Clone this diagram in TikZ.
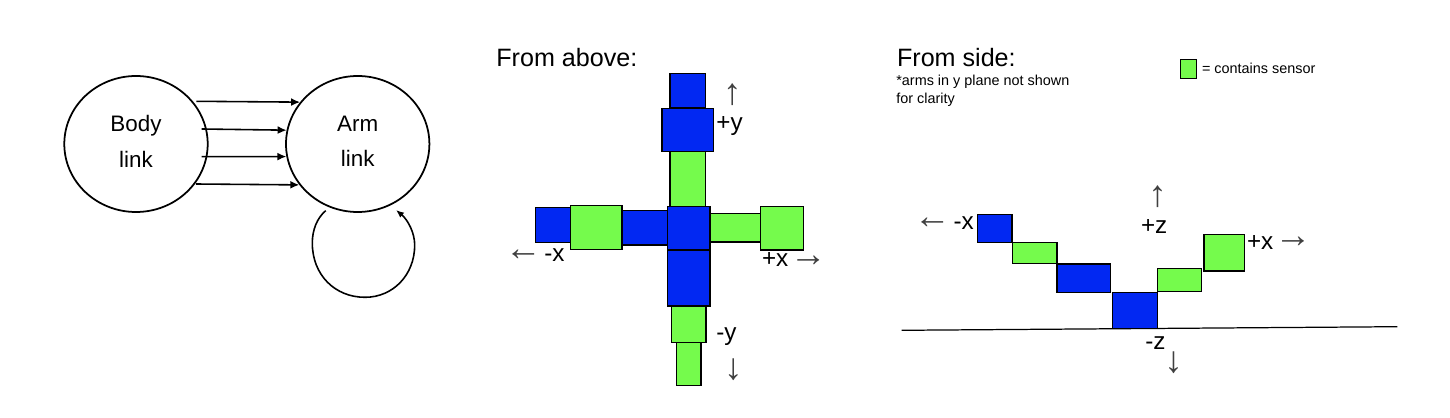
\documentclass[tikz,border=0pt]{standalone}
\usepackage{fontspec}
\setmainfont{Liberation Sans}
\usetikzlibrary{arrows.meta,shapes.geometric}
\definecolor{armblue}{HTML}{0228F2}
\definecolor{armgreen}{HTML}{75FB4C}

\begin{document}
\begin{tikzpicture}[
  x=0.02cm,y=-0.02cm,
  link/.style={
    ellipse,
    draw=black,
    line width=1pt,
    inner sep=0pt,
    minimum width=143.4*0.02cm,
    minimum height=136*0.02cm,
    align=center,
    text depth=3.2pt,
    font=\fontsize{12.75}{20.2}\selectfont
  },
  part/.style={
    draw=black,
    line width=0.65pt,
    inner sep=0pt
  },
  bluepart/.style 2 args={
    part,
    fill=armblue,
    minimum width=#1*0.02cm,
    minimum height=#2*0.02cm
  },
  greenpart/.style 2 args={
    part,
    fill=armgreen,
    minimum width=#1*0.02cm,
    minimum height=#2*0.02cm
  },
  view title/.style={
    anchor=base west,
    inner sep=0pt,
    font=\fontsize{14.3}{17}\selectfont
  },
  axis label/.style={
    anchor=base west,
    inner sep=0pt,
    font=\fontsize{13.8}{16}\selectfont
  },
  axis arrow/.style={
    inner sep=0pt,
    text=black!75,
    font=\fontsize{21}{25}\selectfont
  },
  small note/.style={
    anchor=base west,
    inner sep=0pt,
    align=left,
    font=\fontsize{8.2}{9.9}\selectfont
  },
  flow/.style={-{Latex[length=1.8mm,width=1.6mm]},line width=0.9pt},
  loop flow/.style={-{Latex[length=1.6mm,width=1.3mm]},line width=0.9pt}
]
  \useasboundingbox (0,0) rectangle (1450,418);

  % links
  \node[link] (body) at (136,144) {Body\\link};
  \node[link] (arm) at (357.7,144) {Arm\\link};

  \coordinate (body-a) at (196.3,101.3);
  \coordinate (body-b) at (201.7,129);
  \coordinate (body-c) at (201.7,156.7);
  \coordinate (body-d) at (196,184);
  \coordinate (loop-start) at (325.7,210.7);
  \coordinate (loop-end) at (396,210);

  \draw[flow] (body-a)--(arm.144.6);
  \draw[flow] (body-b)--(arm.169);
  \draw[flow] (body-c)--(arm.190.7);
  \draw[flow] (body-d)--(arm.215.9);
  \draw[loop flow] (loop-start)
    .. controls (317,218) and (312.3,230) .. (312.3,243)
    .. controls (312.3,275) and (335,297.3) .. (365,297.3)
    .. controls (393,297.3) and (414.7,275) .. (414.7,245)
    .. controls (414.7,233) and (408,220) .. (loop-end);

  % from above
  \node[view title] (above-title) at (496,67) {From above:};
  \node[bluepart={35.3}{34.7}] (top-a) at (687.7,90.7) {};
  \node[bluepart={51.3}{43.4}] (top-b) at (687.7,130) {};
  \node[greenpart={35.3}{55}] (top-c) at (687.7,179.2) {};
  \node[bluepart={35}{34.6}] (left-a) at (553.2,225) {};
  \node[bluepart={46}{34.7}] (left-c) at (645,227.6) {};
  \node[greenpart={51.3}{43.6}] (left-b) at (596.3,227.5) {};
  \node[greenpart={50.7}{28.7}] (right-a) at (735.3,227.7) {};
  \node[greenpart={42.6}{43.3}] (right-b) at (782,228.3) {};
  \node[bluepart={42.3}{43.3}] (centre) at (688.8,228.3) {};
  \node[bluepart={42.3}{56}] (down-a) at (688.8,278) {};
  \node[greenpart={34.7}{36.3}] (down-b) at (688.7,324.2) {};
  \node[greenpart={24.7}{43.4}] (down-c) at (688.7,364) {};

  \node[axis arrow] (above-up) at (732.3,95) {↑};
  \node[axis label] (above-py) at (716,130.5) {+y};
  \node[axis arrow] (above-left) at (523.3,255) {←};
  \node[axis label] (above-mx) at (544,261.7) {-x};
  \node[axis label] (above-px) at (761.7,267) {+x};
  \node[axis arrow] (above-right) at (808.3,261) {→};
  \node[axis label] (above-my) at (716,341) {-y};
  \node[axis arrow] (above-down) at (733.3,369.7) {↓};

  % from side
  \node[view title] (side-title) at (896.7,67) {From side:};
  \node[small note] (side-note) at (896,103.3) {*arms in y plane not shown\\for clarity};
  \node[greenpart={16}{18.6}] (legend-box) at (1188.7,69) {};
  \node[small note] (legend-text) at (1201.7,73.3) {= contains sensor};

  \coordinate (ground-a) at (901.7,330.3);
  \coordinate (ground-b) at (1397.3,326.7);
  \draw[line width=0.7pt] (ground-a)--(ground-b);

  \node[bluepart={34.7}{28}] (side-a) at (994.7,228.7) {};
  \node[greenpart={44.7}{20.6}] (side-b) at (1034.7,253) {};
  \node[bluepart={53.7}{28.3}] (side-c) at (1083.8,278.2) {};
  \node[bluepart={45}{36}] (side-d) at (1135.2,310.3) {};
  \node[greenpart={44.4}{23.4}] (side-e) at (1179.5,280) {};
  \node[greenpart={40.7}{36.7}] (side-f) at (1224.3,252.7) {};

  \node[axis arrow] (side-left) at (932.2,223.3) {←};
  \node[axis label] (side-mx) at (953.3,230) {-x};
  \node[axis arrow] (side-up) at (1157.7,197) {↑};
  \node[axis label] (side-pz) at (1140.7,234) {+z};
  \node[axis label] (side-px) at (1246.7,249.3) {+x};
  \node[axis arrow] (side-right) at (1293,242.7) {→};
  \node[axis label] (side-mz) at (1145,350) {-z};
  \node[axis arrow] (side-down) at (1173.7,362.7) {↓};
\end{tikzpicture}
\end{document}
